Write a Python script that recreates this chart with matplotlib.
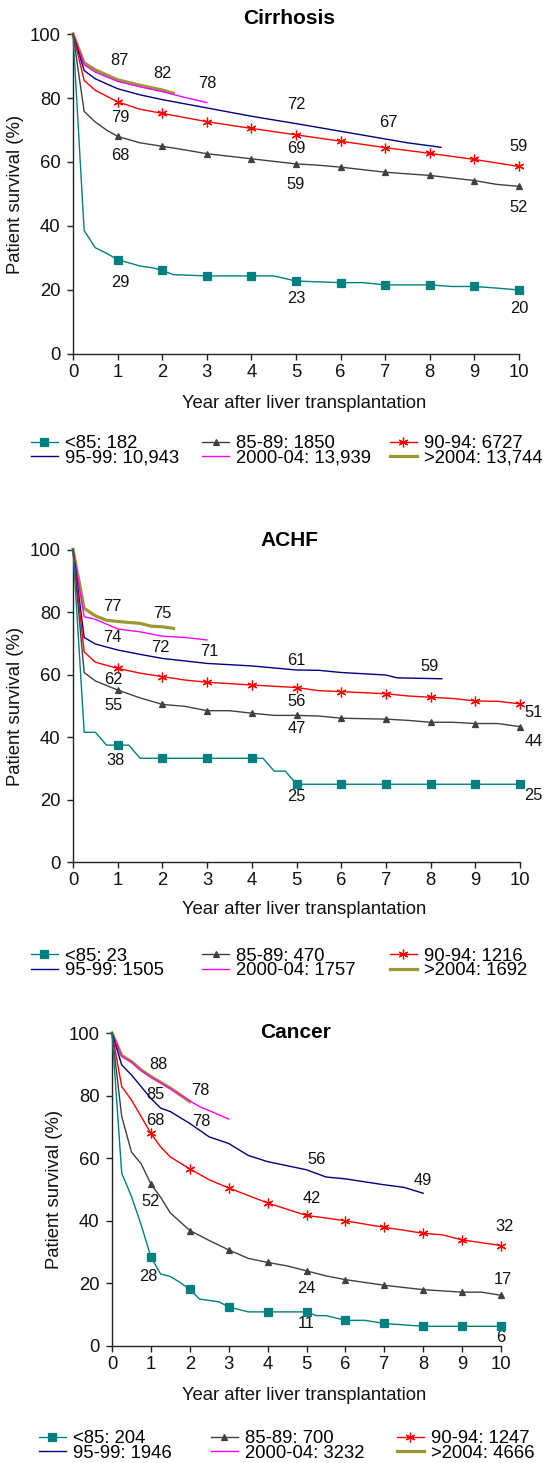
import matplotlib.pyplot as plt
from matplotlib.lines import Line2D

plt.rcParams['font.family'] = ['Liberation Sans', 'DejaVu Sans']

W, H = 549, 1463

groups = ['<85', '85-89', '90-94', '95-99', '2000-04', '>2004']

# ---------------- Cirrhosis ----------------
cir_n = ['182', '1850', '6727', '10,943', '13,939', '13,744']
cir_t = [
    [0, 0.25, 0.5, 0.75, 1, 1.5, 1.8, 2, 2.25, 3, 4, 4.5, 5, 6, 6.5, 7, 8, 8.5, 9, 9.5, 10],
    [0, 0.25, 0.5, 0.75, 1, 1.5, 2, 2.5, 3, 4, 5, 5.5, 6, 7, 8, 9, 9.5, 10],
    [0, 0.25, 0.5, 1, 1.5, 2, 3, 4, 5, 6, 7, 8, 9, 10],
    [0, 0.25, 0.5, 1, 1.5, 2, 3, 4, 5, 6, 7, 7.5, 8.25],
    [0, 0.25, 0.5, 1, 1.5, 2, 2.5, 3],
    [0, 0.25, 0.5, 1, 1.5, 2, 2.25],
]
cir_v = [
    [100, 38.6, 33.2, 31.5, 29.5, 27.5, 26.9, 26.1, 24.8, 24.4, 24.4, 24.4, 22.8, 22.3, 22.3, 21.6, 21.6, 21.1, 21.1, 20.6, 20.0],
    [100, 75.8, 72.5, 70.0, 68.0, 66.0, 64.9, 63.8, 62.6, 61.0, 59.4, 59.0, 58.4, 56.8, 55.8, 54.2, 53.0, 52.4],
    [100, 85.5, 82.4, 78.8, 76.5, 75.2, 72.6, 70.5, 68.5, 66.5, 64.5, 62.7, 60.8, 58.6],
    [100, 88.6, 86.0, 82.9, 81.0, 79.5, 76.9, 74.3, 72.0, 69.6, 67.2, 66.0, 64.6],
    [100, 90.4, 88.1, 85.2, 83.5, 82.0, 80.2, 78.6],
    [100, 91.0, 88.8, 85.7, 84.0, 82.5, 81.5],
]
cir_lbl = [(1.05, 91.8, '87'), (2, 87.8, '82'), (3.02, 84.5, '78'), (5, 78, '72'),
           (7.06, 72.4, '67'), (10, 64.7, '59'), (1.05, 73.9, '79'), (1.05, 62, '68'),
           (5, 64.2, '69'), (5, 53, '59'), (10, 45.9, '52'), (1.05, 22.2, '29'),
           (5, 17.3, '23'), (10, 14.1, '20')]

# ---------------- ACHF ----------------
achf_n = ['23', '470', '1216', '1505', '1757', '1692']
achf_t = [
    [0, 0.25, 0.5, 0.75, 1, 1.25, 1.5, 2, 3, 4, 4.25, 4.5, 4.75, 5, 6, 7, 8, 9, 10],
    [0, 0.25, 0.5, 1, 1.5, 2, 2.5, 3, 3.5, 4, 4.5, 5, 5.5, 6, 7, 7.5, 8, 8.5, 9, 9.5, 10],
    [0, 0.25, 0.5, 1, 1.5, 2, 2.5, 3, 4, 5, 5.5, 6, 7, 7.5, 8, 8.5, 9, 9.5, 10],
    [0, 0.25, 0.5, 1, 1.5, 2, 2.5, 3, 4, 5, 5.5, 6, 7, 7.25, 8.25],
    [0, 0.25, 0.5, 1, 1.5, 2, 2.5, 3],
    [0, 0.25, 0.5, 0.75, 1, 1.5, 1.75, 2, 2.25],
]
achf_v = [
    [100, 41.6, 41.6, 37.5, 37.5, 37.5, 33.3, 33.3, 33.3, 33.3, 33.3, 29.2, 29.2, 25, 25, 25, 25, 25, 25],
    [100, 60.7, 58.0, 55.1, 52.6, 50.5, 49.9, 48.5, 48.5, 47.7, 47.0, 47.0, 46.8, 46.1, 45.8, 45.4, 44.8, 44.8, 44.4, 44.4, 43.4],
    [100, 67.3, 64.0, 62.0, 60.5, 59.4, 58.3, 57.6, 56.7, 55.9, 54.9, 54.6, 53.9, 53.2, 52.8, 52.4, 51.6, 51.5, 50.7],
    [100, 71.9, 69.8, 67.9, 66.5, 65.2, 64.4, 63.6, 62.8, 61.5, 61.4, 60.7, 59.9, 59.0, 58.7],
    [100, 78.5, 77.7, 74.6, 73.7, 72.3, 71.9, 71.1],
    [100, 81.2, 78.8, 77.4, 77.0, 76.4, 75.5, 75.3, 74.8],
]
achf_lbl = [(0.875, 81.9, '77'), (2, 79.4, '75'), (0.875, 71.9, '74'), (1.95, 68.7, '72'),
            (3.05, 67.3, '71'), (5, 64.4, '61'), (7.97, 62.6, '59'), (0.91, 58.6, '62'),
            (0.91, 50.1, '55'), (5, 51.4, '56'), (5, 42.7, '47'), (10.3, 47.9, '51'),
            (10.3, 38.7, '44'), (0.94, 32.5, '38'), (5, 21, '25'), (10.3, 21.5, '25')]

# ---------------- Cancer ----------------
can_n = ['204', '700', '1247', '1946', '3232', '4666']
can_t = [
    [0, 0.25, 0.5, 0.75, 1, 1.25, 1.5, 1.75, 2, 2.25, 2.75, 3, 3.5, 4, 5, 5.25, 5.5, 6, 6.5, 7, 8, 9, 10],
    [0, 0.25, 0.5, 0.75, 1, 1.25, 1.5, 2, 2.5, 3, 3.5, 4, 4.5, 5, 5.5, 6, 7, 8, 8.5, 9, 9.5, 10],
    [0, 0.25, 0.5, 0.75, 1, 1.25, 1.5, 2, 2.5, 3, 4, 5, 5.5, 6, 7, 7.5, 8, 8.5, 9, 10],
    [0, 0.25, 0.5, 1, 1.25, 1.5, 2, 2.5, 3, 3.5, 4, 5, 5.5, 6, 7, 7.5, 8],
    [0, 0.25, 0.5, 0.75, 1, 1.5, 2, 2.25, 2.5, 3],
    [0, 0.25, 0.5, 0.75, 1, 1.5, 2],
]
can_v = [
    [100, 55.2, 47.8, 38.7, 28.4, 23.0, 22.2, 20.3, 18.1, 15.0, 14.1, 12.5, 10.9, 10.9, 10.9, 9.7, 9.7, 8.2, 8.2, 7.2, 6.3, 6.3, 6.3],
    [100, 73.3, 62.0, 58.2, 51.8, 47.5, 42.5, 36.9, 33.7, 30.7, 28.0, 26.7, 25.6, 24.0, 22.4, 21.2, 19.4, 18.0, 17.6, 17.2, 17.2, 16.2],
    [100, 82.9, 78.6, 73.3, 67.9, 63.6, 60.4, 56.6, 53.1, 50.5, 45.7, 41.7, 40.9, 40.0, 37.9, 37.0, 36.0, 35.5, 33.9, 32.1],
    [100, 89.8, 86.6, 79.1, 76.0, 74.9, 71.1, 66.8, 64.7, 60.9, 58.9, 56.3, 54.0, 53.4, 51.5, 50.7, 48.8],
    [100, 92.6, 90.7, 88.0, 85.9, 82.2, 78.3, 76.5, 75.2, 72.5],
    [100, 92.8, 90.9, 88.2, 86.1, 82.4, 78.1],
]
can_lbl = [(1.18, 89.8, '88'), (1.11, 80.4, '85'), (2.27, 81.5, '78'), (1.11, 71.9, '68'),
           (2.29, 71.7, '78'), (5.27, 59.5, '56'), (8.0, 52.9, '49'), (5.14, 47.0, '42'),
           (10.1, 38.2, '32'), (1.0, 46.2, '52'), (10.05, 21.3, '17'), (5.0, 18.5, '24'),
           (0.93, 22.1, '28'), (5.0, 7.2, '11'), (10.0, 2.6, '6')]

# styles
colors = ['#008080', '#404040', '#ff0000', '#000080', '#ff00ff', '#999933']
markers = ['s', '^', (6, 2, 0), None, None, None]
msizes = [5.3, 4.6, 7, 0, 0, 0]
lws = [1.0, 1.0, 1.0, 1.0, 1.0, 2.3]

FS = 13.3


def fx(px):
    return px / W


def fy(py):
    return 1 - py / H


fig = plt.figure(figsize=(W / 100, H / 100), dpi=100)

panels = [
    ('Cirrhosis', cir_t, cir_v, cir_lbl, cir_n,
     (73, 519, 34, 354), (289, 18), (304, 403), 16, 451, (30.6, 202, 389.5)),
    ('ACHF', achf_t, achf_v, achf_lbl, achf_n,
     (73, 520, 549.5, 862.5), (289, 541), (304, 910), 16, 963.5, (30.6, 202, 389.5)),
    ('Cancer', can_t, can_v, can_lbl, can_n,
     (112, 501, 1033, 1346), (296, 1032), (304, 1395), 55, 1446, (38.6, 210.5, 396.5)),
]

for (title, ts, vs, lbls, ns, box, tpos, xlpos, ylx, legy, legx) in panels:
    l, r, t, b = box
    ax = fig.add_axes([fx(l), fy(b), (r - l) / W, (b - t) / H])
    handles = []
    for i in range(6):
        tt = ts[i]
        idx = [k for k, x in enumerate(tt) if float(x).is_integer() and x > 0]
        ax.plot(tt, vs[i], color=colors[i], lw=lws[i], marker=markers[i],
                ms=msizes[i], markevery=idx if markers[i] else None,
                mec=colors[i], mfc=colors[i], mew=0.9, clip_on=False,
                zorder=3 + (6 - i) * 0.1)
        handles.append(Line2D([], [], color=colors[i], lw=lws[i], marker=markers[i],
                              ms=msizes[i], mec=colors[i], mfc=colors[i], mew=0.9))
    for (x, y, s) in lbls:
        ax.text(x, y, s, ha='center', va='center', fontsize=11.8, color='#111111')
    ax.set_xlim(0, 10)
    ax.set_ylim(0, 100)
    ax.set_xticks(range(0, 11))
    ax.set_yticks(range(0, 101, 20))
    for side in ['top', 'right']:
        ax.spines[side].set_visible(False)
    for side in ['left', 'bottom']:
        ax.spines[side].set_color('#222222')
        ax.spines[side].set_linewidth(1.0)
    ax.tick_params(direction='out', length=4, width=1.0, color='#222222',
                   labelsize=FS, labelcolor='#111111')
    ax.tick_params(axis='y', pad=5)
    ax.tick_params(axis='x', pad=3)

    fig.text(fx(tpos[0]), fy(tpos[1]), title, ha='center', va='center',
             fontsize=15, fontweight='bold')
    fig.text(fx(xlpos[0]), fy(xlpos[1]), 'Year after liver transplantation',
             ha='center', va='center', fontsize=FS, color='#111111')
    fig.text(fx(ylx), fy((t + b) / 2), 'Patient survival (%)', rotation=90,
             ha='center', va='center', fontsize=FS, color='#111111')

    labels = [g + ': ' + n for g, n in zip(groups, ns)]
    for c in range(3):
        fig.legend([handles[c], handles[c + 3]], [labels[c], labels[c + 3]],
                   loc='center left', bbox_to_anchor=(fx(legx[c]), fy(legy)),
                   frameon=False, borderpad=0, borderaxespad=0, fontsize=FS,
                   handlelength=27.4 / (FS * 100 / 72), handletextpad=0.38,
                   labelspacing=-0.12)

fig.savefig('out.png', dpi=100)
